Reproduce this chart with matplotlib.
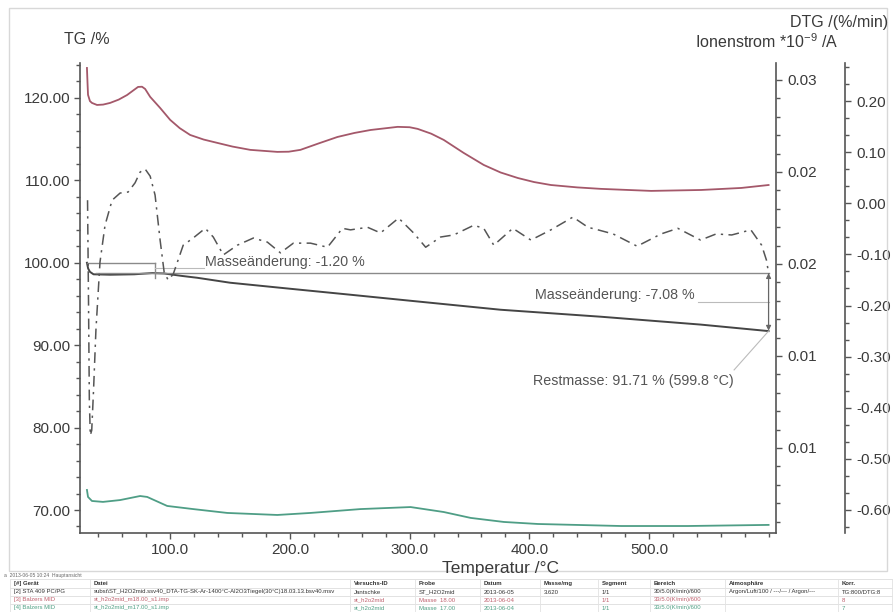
import matplotlib
matplotlib.use("Agg")
import matplotlib.pyplot as plt
from matplotlib.ticker import MultipleLocator, FixedLocator, FixedFormatter, FormatStrFormatter, AutoMinorLocator
from matplotlib.patches import Rectangle
from matplotlib.lines import Line2D

plt.rcParams['font.family'] = ['Liberation Sans', 'DejaVu Sans']
plt.rcParams['axes.unicode_minus'] = False
plt.rcParams['mathtext.fontset'] = 'custom'
plt.rcParams['mathtext.rm'] = 'Liberation Sans'
plt.rcParams['mathtext.it'] = 'Liberation Sans'
plt.rcParams['mathtext.bf'] = 'Liberation Sans'

# ---------------- data ----------------
# TG curve (mass %) vs temperature
tg_temp = [30.5, 31.5, 33, 36, 50, 70, 85, 95, 110, 122.6, 150, 200, 250, 300, 376, 460, 543, 599.8]
tg_mass = [100.0, 99.3, 98.9, 98.6, 98.55, 98.6, 98.75, 98.7, 98.4, 98.18, 97.58, 96.85, 96.13, 95.4, 94.3, 93.45, 92.5, 91.71]

# DTG curve (%/min)
dtg_temp = [31.0, 31.8, 32.5, 33.3, 34.5, 36.0, 38.0, 41.4, 45.6, 51.5, 58.2, 64.9, 70.7, 74.9, 79.1,
            83.3, 87.4, 91.6, 95.0, 98.3, 102.5, 110.9, 119.2, 129.3, 136.0, 144.4, 156.1, 169.5,
            181.2, 192.1, 202.9, 217.2, 231.4, 243.9, 250.6, 264.9, 275.7, 290.8, 303.3, 313.4,
            325.9, 336.8, 353.6, 361.9, 370.3, 386.2, 401.3, 418.0, 436.4, 449.0, 457.3, 470.0,
            490.0, 510.0, 524.0, 543.0, 556.0, 569.0, 585.0, 594.0, 598.0, 600.0]
dtg_val = [0.006, -0.189, -0.385, -0.454, -0.444, -0.366, -0.248, -0.115, -0.043, 0.006, 0.020, 0.022,
           0.040, 0.061, 0.067, 0.053, 0.016, -0.072, -0.135, -0.150, -0.139, -0.082, -0.068, -0.049,
           -0.066, -0.101, -0.082, -0.068, -0.076, -0.097, -0.078, -0.078, -0.086, -0.049, -0.052,
           -0.047, -0.058, -0.029, -0.058, -0.086, -0.066, -0.062, -0.043, -0.049, -0.082, -0.049,
           -0.072, -0.052, -0.027, -0.047, -0.052, -0.060, -0.084, -0.060, -0.049, -0.072, -0.060,
           -0.062, -0.052, -0.082, -0.111, -0.139]

# Ion current m/z 18 (*10^-9 A)
m18_temp = [30.5, 31.0, 31.4, 33.0, 34.7, 38.9, 44.0, 49.8, 57.0, 64.0, 69.0, 73.2, 76.5, 79.1, 83.3,
            91.6, 100.0, 108.0, 116.7, 128.0, 139.3, 152.0, 166.9, 189.5, 199.0, 208.8, 224.0, 239.7,
            254.0, 267.4, 290.0, 300.0, 306.7, 318.0, 328.5, 345.0, 361.9, 376.0, 390.4, 404.0, 418.0,
            440.0, 459.8, 501.7, 543.5, 577.0, 599.8]
m18_val = [0.03065, 0.02980, 0.02919, 0.02885, 0.02875, 0.02864, 0.02866, 0.02875, 0.02893, 0.02918,
           0.02942, 0.02962, 0.02963, 0.02951, 0.02908, 0.02848, 0.02783, 0.02738, 0.02701, 0.02676,
           0.02658, 0.02638, 0.0262, 0.02609, 0.02610, 0.0262, 0.02655, 0.0269, 0.02712, 0.02728,
           0.02745, 0.02743, 0.02734, 0.02708, 0.02674, 0.02604, 0.02538, 0.02497, 0.02467, 0.02445,
           0.02429, 0.02416, 0.02408, 0.02397, 0.02402, 0.02413, 0.02429]

# Ion current m/z 17 (*10^-9 A)
m17_temp = [30.5, 31.4, 34.7, 43.9, 58.2, 74.9, 80.8, 97.5, 119.2, 147.7, 189.5, 217.2, 259.0, 300.8,
            328.5, 351.0, 378.7, 407.1, 476.6, 532.6, 599.8]
m17_val = [0.00772, 0.00734, 0.00712, 0.00707, 0.00717, 0.00739, 0.00734, 0.00685, 0.00668, 0.00647,
           0.00636, 0.00647, 0.00668, 0.00679, 0.00652, 0.0062, 0.00598, 0.00587, 0.00576, 0.00576,
           0.00582]

x_ticks = [100, 200, 300, 400, 500]
tg_ticks = [70, 80, 90, 100, 110, 120]
dtg_ticks = [-0.6, -0.5, -0.4, -0.3, -0.2, -0.1, 0.0, 0.1, 0.2]
ion_ticks = [0.010, 0.015, 0.020, 0.025, 0.030]
ion_tick_labels = ['0.01', '0.01', '0.02', '0.02', '0.03']

step1_start, step1_end, step1_level = 30.5, 87.4, 100.0
step2_level = 98.79
rest_temp, rest_mass = 599.8, 91.71

table_cols = ['[#] Gerät', 'Datei', 'Versuchs-ID', 'Probe', 'Datum', 'Masse/mg', 'Segment', 'Bereich', 'Atmosphäre', 'Korr.']
table_rows = [
    ['[2] STA 409 PC/PG', 'subst\\ST_H2O2mid.ssv40_DTA-TG-SK-Ar-1400°C-Al2O3Tiegel(30°C)18.03.13.bsv40.msv', 'Jantschke', 'ST_H2O2mid', '2013-06-05', '3.620', '1/1', '30/5.0(K/min)/600', 'Argon/Luft/100 / ---/--- / Argon/---', 'TG:800/DTG:8'],
    ['[3] Balzers MID', 'st_h2o2mid_m18.00_s1.imp', 'st_h2o2mid', 'Masse  18.00', '2013-06-04', '', '1/1', '33/5.0(K/min)/600', '', '8'],
    ['[4] Balzers MID', 'st_h2o2mid_m17.00_s1.imp', 'st_h2o2mid', 'Masse  17.00', '2013-06-04', '', '1/1', '33/5.0(K/min)/600', '', '7'],
]

# ---------------- styling ----------------
W, H = 894, 612
C_AX = '#555555'
C_TXT = '#3a3a3a'
C_TG = '#454545'
C_DTG = '#555555'
C_M18 = '#a4586a'
C_M17 = '#4f9e86'
C_REF = '#8a8a8a'

fig = plt.figure(figsize=(W / 100, H / 100), dpi=100)
fig.patch.set_facecolor('white')

def fx(px):
    return px / W

def fy(py):
    return 1 - py / H

L, R, T, B = 80, 776, 63, 533
ax = fig.add_axes([fx(L), fy(B), (R - L) / W, (B - T) / H])
ax_ion = ax.twinx()
ax_dtg = ax.twinx()

ax.set_xlim(24.7, 606.0)
ax.set_ylim(67.21, 124.24)
ax_ion.set_ylim(0.00538, 0.03092)
ax_dtg.set_ylim(-0.645, 0.2744)

for a in (ax, ax_ion, ax_dtg):
    a.patch.set_visible(False)
    for s in a.spines.values():
        s.set_visible(False)
        s.set_color(C_AX)
        s.set_linewidth(1.2)

ax.spines['left'].set_visible(True)
ax.spines['bottom'].set_visible(True)
ax_ion.spines['right'].set_visible(True)
ax_dtg.spines['right'].set_visible(True)
ax_dtg.spines['right'].set_position(('axes', (845 - L) / (R - L)))

tick_kw = dict(direction='out', colors=C_AX, labelcolor=C_TXT, labelsize=11, width=1.0)
ax.tick_params(axis='both', which='major', length=4, pad=3, **tick_kw)
ax.tick_params(axis='both', which='minor', length=3, **tick_kw)
ax_ion.tick_params(axis='y', which='major', length=4, pad=4, **tick_kw)
ax_ion.tick_params(axis='y', which='minor', length=3, **tick_kw)
ax_dtg.tick_params(axis='y', which='major', length=4, pad=4, **tick_kw)
ax_dtg.tick_params(axis='y', which='minor', length=3, **tick_kw)
ax.tick_params(axis='x', which='major', pad=3)

ax.xaxis.set_major_locator(FixedLocator(x_ticks))
ax.xaxis.set_major_formatter(FormatStrFormatter('%.1f'))
ax.xaxis.set_minor_locator(MultipleLocator(20))
ax.yaxis.set_major_locator(FixedLocator(tg_ticks))
ax.yaxis.set_major_formatter(FormatStrFormatter('%.2f'))
ax.yaxis.set_minor_locator(MultipleLocator(2))

ax_ion.yaxis.set_major_locator(FixedLocator(ion_ticks))
ax_ion.yaxis.set_major_formatter(FixedFormatter(ion_tick_labels))
ax_ion.yaxis.set_minor_locator(MultipleLocator(0.001))

ax_dtg.yaxis.set_major_locator(FixedLocator(dtg_ticks))
ax_dtg.yaxis.set_major_formatter(FormatStrFormatter('%.2f'))
ax_dtg.yaxis.set_minor_locator(AutoMinorLocator(3))

# ---------------- curves ----------------
ax_ion.plot(m18_temp, m18_val, color=C_M18, lw=1.3, clip_on=False, solid_joinstyle='round')
ax_ion.plot(m17_temp, m17_val, color=C_M17, lw=1.3, clip_on=False, solid_joinstyle='round')
ax_dtg.plot(dtg_temp, dtg_val, color=C_DTG, lw=1.1, linestyle=(0, (7, 3.5, 1.5, 3.5)))
ax.plot(tg_temp, tg_mass, color=C_TG, lw=1.4, solid_joinstyle='round')

# mass-change annotations
ax.plot([step1_start, step1_end], [step1_level, step1_level], color=C_REF, lw=1.0)
ax.plot([step1_end, step1_end], [step1_level, 98.2], color=C_REF, lw=1.0)
ax.plot([38.0, rest_temp], [step2_level, step2_level], color=C_REF, lw=1.0)
ax.plot([step1_end, 128.0], [99.4, 99.4], color='#bbbbbb', lw=0.8)
ax.text(129.5, 100.15, 'Masseänderung: -1.20 %', fontsize=10.3, color='#555555', va='center', ha='left')

ax.annotate('', xy=(rest_temp, step2_level - 0.05), xytext=(rest_temp, rest_mass + 0.05),
            arrowprops=dict(arrowstyle='<|-|>', color='#666666', lw=0.9, mutation_scale=7, shrinkA=0, shrinkB=0))
ax.plot([541.0, rest_temp], [95.27, 95.27], color='#bbbbbb', lw=0.8)
ax.text(538.0, 96.05, 'Masseänderung: -7.08 %', fontsize=10.3, color='#555555', va='center', ha='right')

ax.plot([571.0, rest_temp], [87.0, rest_mass], color='#bbbbbb', lw=0.8)
ax.text(403.0, 85.6, 'Restmasse: 91.71 % (599.8 °C)', fontsize=10.3, color='#555555', va='center', ha='left')

# ---------------- axis titles ----------------
fig.text(fx(87), fy(40), 'TG /%', fontsize=11.5, color=C_TXT, ha='center', va='center')
fig.text(fx(888), fy(22), 'DTG /(%/min)', fontsize=11.5, color=C_TXT, ha='right', va='center')
fig.text(fx(838), fy(42), r'Ionenstrom *10$^{\mathrm{-9}}$ /A', fontsize=11.5, color=C_TXT, ha='right', va='center')
fig.text(fx(500), fy(568), 'Temperatur /°C', fontsize=12.5, color=C_TXT, ha='center', va='center')

# ---------------- frame & table ----------------
fig.add_artist(Rectangle((fx(9), fy(571)), (887 - 9) / W, (571 - 8) / H, transform=fig.transFigure,
                         fill=False, edgecolor='#d8d8d8', lw=1.0))
fig.text(fx(4), fy(575), 'a  2013-06-05 10:24  Hauptansicht', fontsize=3.6, color='#666666', va='center', ha='left')

col_x = [10, 90, 350, 415, 480, 540, 598, 650, 725, 838, 892]
row_y = [579, 588, 596, 604, 612]
row_colors = ['#333333', '#c0606e', '#4fa084']
for yy in row_y[:-1]:
    fig.add_artist(Line2D([fx(col_x[0]), fx(col_x[-1])], [fy(yy), fy(yy)], transform=fig.transFigure,
                          color='#dddddd', lw=0.6))
for xx in col_x:
    fig.add_artist(Line2D([fx(xx), fx(xx)], [fy(row_y[0]), fy(row_y[-1])], transform=fig.transFigure,
                          color='#e2e2e2', lw=0.6))
for i, name in enumerate(table_cols):
    fig.text(fx(col_x[i] + 4), fy((row_y[0] + row_y[1]) / 2), name, fontsize=4.3, color='#333333',
             fontweight='bold', va='center', ha='left')
for r, row in enumerate(table_rows):
    yc = (row_y[r + 1] + row_y[r + 2]) / 2
    for i, cell in enumerate(row):
        fig.text(fx(col_x[i] + 4), fy(yc), cell, fontsize=4.3, color=row_colors[r], va='center', ha='left')

fig.savefig('out.png', dpi=100, facecolor='white')
